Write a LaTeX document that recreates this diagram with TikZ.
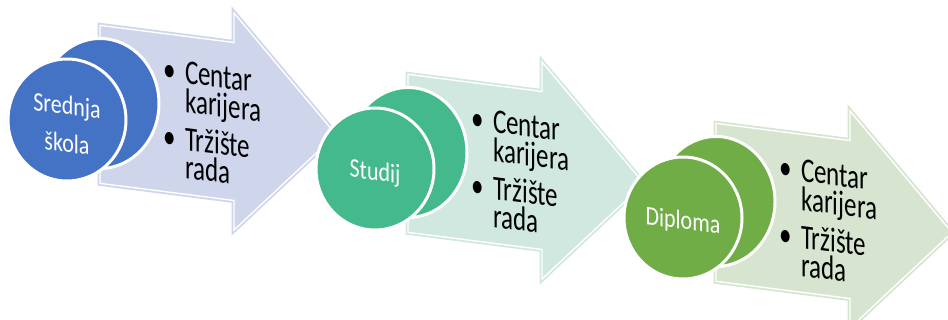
\documentclass[tikz,border=0pt]{standalone}
\usepackage{fontspec}
\setmainfont{Carlito}
\definecolor{arrowA}{HTML}{CFD5EA}
\definecolor{arrowB}{HTML}{D0E8E0}
\definecolor{arrowC}{HTML}{D6E4D0}
\definecolor{faceA}{HTML}{4472C4}
\definecolor{faceB}{HTML}{44B98B}
\definecolor{faceC}{HTML}{70AD47}
\tikzset{
  arrowshape/.style={insert path={(-134,-79) -- (0,-79) -- (0,-108.5) -- (102,0)
    -- (0,108.5) -- (0,79) -- (-134,79) -- cycle}},
  stagebody/.style={fill=#1, draw=#1, line width=5pt, line join=miter},
  stageedge/.style={draw=white, line width=1.4pt, line join=miter},
  face/.style={fill=#1, draw=white, line width=3pt},
  facetext/.style={text=white, font=\fontsize{22}{31}\selectfont, align=center,
    inner sep=0pt, yscale=1.22, transform shape},
  listtext/.style={font=\fontsize{25}{30}\selectfont, inner sep=0pt,
    anchor=base west, yscale=1.38, transform shape}
}

\begin{document}
\begin{tikzpicture}[x=1pt, y=-1pt]
\useasboundingbox (0,0) rectangle (948,320);
\clip (0,0) rectangle (948,320);
\foreach \k/\bodyc/\facec/\lbl in {0/arrowA/faceA/{Srednja\\škola},
    1/arrowB/faceB/Studij, 2/arrowC/faceC/Diploma}{
  \pgfmathsetmacro{\sx}{234+308*\k}
  \pgfmathsetmacro{\sy}{121.5+49*\k}
  % pale arrow
  \begin{scope}[shift={(\sx,\sy)}, yslant=-0.128]
    \path[stagebody=\bodyc, arrowshape];
    \path[stageedge, arrowshape];
  \end{scope}
  % coin: back face, then front face
  \coordinate (back\k) at (\sx-134,\sy-18);
  \coordinate (front\k) at (\sx-167,\sy-1.5);
  \path[face=\facec] (back\k) ellipse [x radius=59pt, y radius=65pt];
  \path[face=\facec] (front\k) ellipse [x radius=59pt, y radius=61pt];
  % texts
  \begin{scope}[shift={(\sx,\sy)}, yslant=-0.128]
    \node[facetext] (label\k) at (-167,24) {\lbl};
    \foreach \ln/\yy/\txt in {a/-32.2/Centar, b/-3.2/karijera,
        c/34.8/Tržište, d/62.8/rada}
      \node[listtext] (line\k\ln) at (-49,\yy) {\txt};
    \node[listtext] (dot\k a) at (-71,-32.2) {•};
    \node[listtext] (dot\k c) at (-71,34.8) {•};
  \end{scope}
}
\end{tikzpicture}
\end{document}
